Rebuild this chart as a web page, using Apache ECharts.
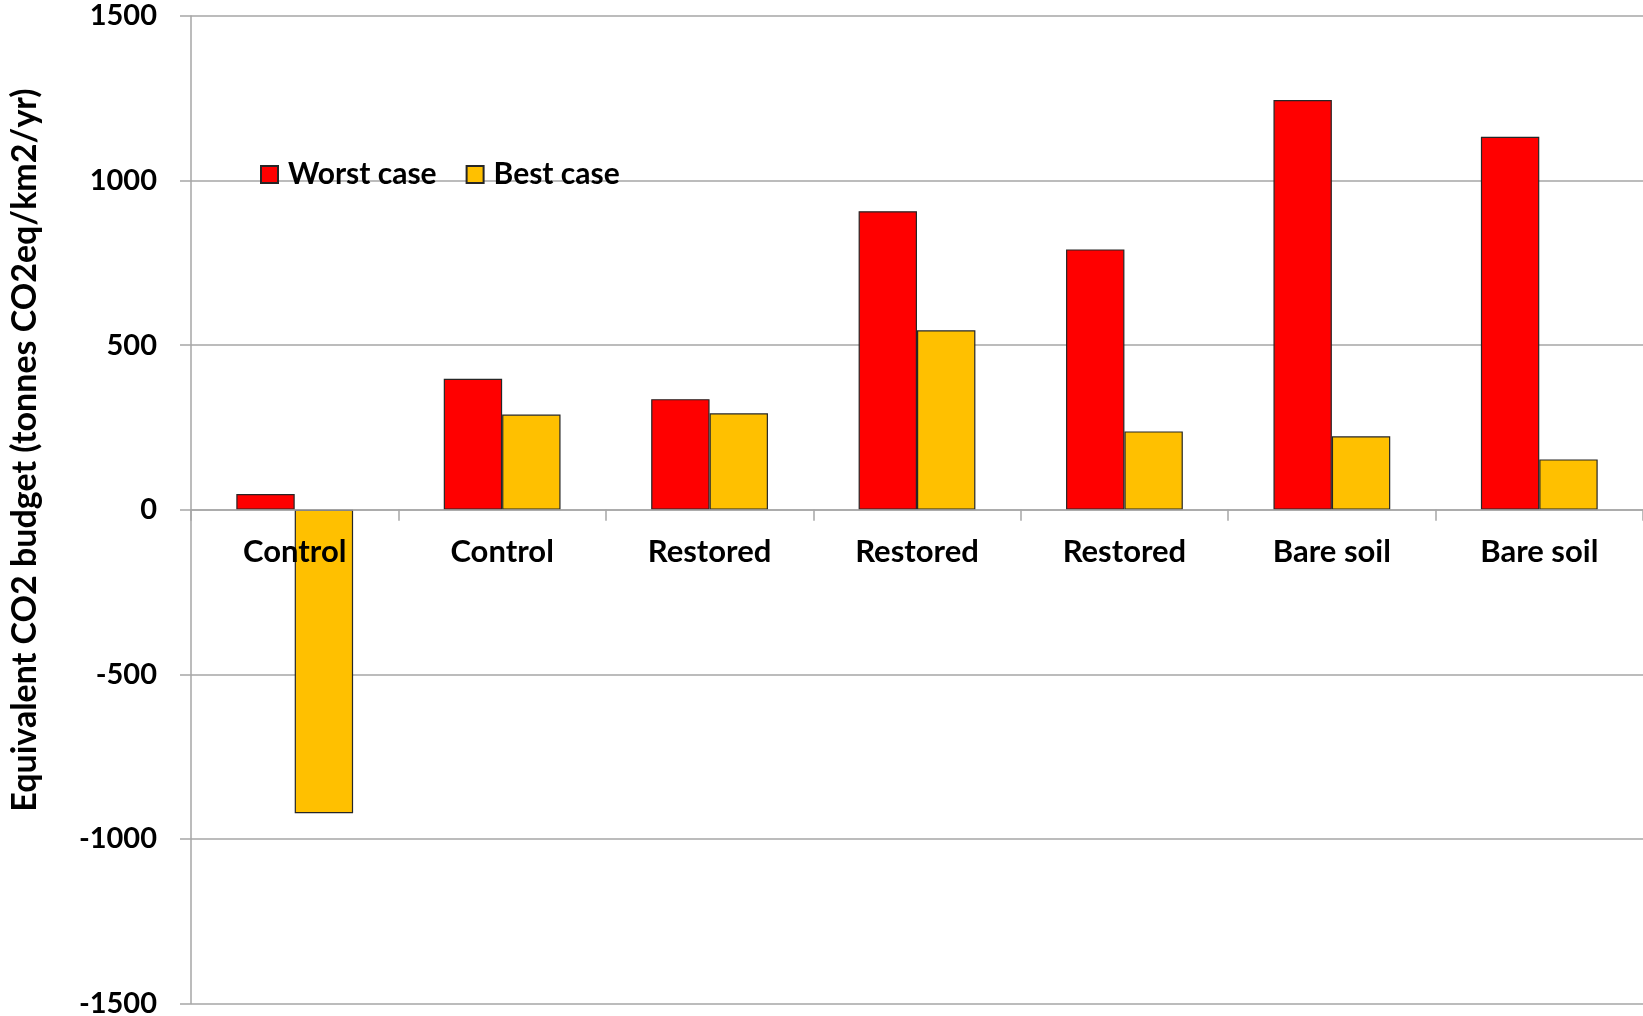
<!DOCTYPE html>
<html>
<head>
<meta charset="utf-8">
<script src="https://cdn.jsdelivr.net/npm/echarts@6/dist/echarts.min.js"></script>
<style>
  html, body { margin: 0; padding: 0; background: #fff; }
  #chart { width: 1643px; height: 1016px; }
</style>
</head>
<body>
<div id="chart"></div>
<script>
// Site categories along the x axis
const categories = ['Control', 'Control', 'Restored', 'Restored', 'Restored', 'Bare soil', 'Bare soil'];
// Equivalent CO2 budget, tonnes CO2eq/km2/yr
const worstCase = [48, 398, 336, 907, 791, 1245, 1133];
const bestCase = [-922, 289, 293, 545, 238, 223, 153];
const seriesNames = ['Worst case', 'Best case'];
const yTitle = 'Equivalent CO2 budget (tonnes CO2eq/km2/yr)';
const yMin = -1500, yMax = 1500, yStep = 500;

const FONT = 'Lato';
const GRID = { left: 191, right: 0, top: 16, bottom: 12.5 };
const CHART_H = 1016;
// distance from the plot bottom up to the zero line, so category labels sit under it
const plotH = CHART_H - GRID.top - GRID.bottom;
const zeroFromBottom = plotH * (0 - yMin) / (yMax - yMin);

const chart = echarts.init(document.getElementById('chart'), null, { renderer: 'canvas' });

chart.setOption({
  animation: false,
  backgroundColor: '#ffffff',
  grid: Object.assign({ containLabel: false, outerBoundsMode: 'none' }, GRID),
  legend: {
    data: seriesNames,
    left: 260,
    top: 157.5,
    padding: 0,
    itemWidth: 17,
    itemHeight: 17,
    itemGap: 29,
    icon: 'rect',
    textStyle: { fontFamily: FONT, fontWeight: 'bold', fontSize: 30, lineHeight: 34, color: '#000', padding: [0, 0, 0, 5] }
  },
  graphic: [{
    type: 'text',
    x: 25,
    y: 450,
    rotation: Math.PI / 2,
    style: {
      text: yTitle,
      fontFamily: FONT,
      fontWeight: 'bold',
      fontSize: 34,
      fill: '#000',
      align: 'center',
      verticalAlign: 'middle'
    }
  }],
  xAxis: [
    {
      type: 'category',
      data: categories,
      z: 5,
      axisLine: { onZero: true, lineStyle: { color: '#a6a6a6', width: 1.5 } },
      axisTick: { show: true, length: 11, lineStyle: { color: '#a6a6a6', width: 1.5 } },
      axisLabel: { show: false },
      splitLine: { show: false }
    },
    {
      // label row drawn just under the zero line
      type: 'category',
      data: categories,
      position: 'bottom',
      offset: -zeroFromBottom,
      z: 6,
      axisLine: { show: false },
      axisTick: { show: false },
      axisLabel: {
        fontFamily: FONT, fontWeight: 'bold', fontSize: 31, color: '#000',
        margin: 27, lineHeight: 31, interval: 0
      },
      splitLine: { show: false }
    }
  ],
  yAxis: {
    type: 'value',
    min: yMin,
    max: yMax,
    interval: yStep,
    axisLine: { show: true, lineStyle: { color: '#a6a6a6', width: 1.5 } },
    axisTick: { show: true, length: 11, lineStyle: { color: '#a6a6a6', width: 1.5 } },
    axisLabel: {
      fontFamily: FONT, fontWeight: 'bold', fontSize: 29, color: '#000', margin: 34,
      formatter: v => String(v)
    },
    splitLine: { show: true, lineStyle: { color: '#a6a6a6', width: 1.5 } }
  },
  series: [
    {
      name: seriesNames[0],
      type: 'bar',
      data: worstCase,
      barGap: '0%',
      barCategoryGap: '43.7%',
      itemStyle: { color: '#ff0000', borderColor: '#262626', borderWidth: 1.2 }
    },
    {
      name: seriesNames[1],
      type: 'bar',
      data: bestCase,
      barGap: '0%',
      barCategoryGap: '43.7%',
      itemStyle: { color: '#ffc000', borderColor: '#262626', borderWidth: 1.2 }
    }
  ]
});
</script>
</body>
</html>
